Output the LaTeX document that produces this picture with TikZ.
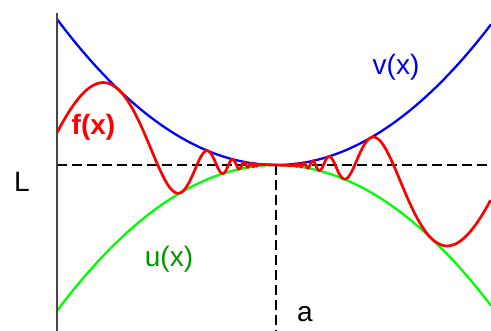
\documentclass[tikz,border=0pt]{standalone}
\usepackage{fontspec}
\setmainfont{Liberation Sans}
\definecolor{vblue}{RGB}{0,0,255}
\definecolor{ugreen}{RGB}{0,255,0}
\definecolor{utext}{RGB}{0,150,0}
\definecolor{vtext}{RGB}{0,0,230}
\definecolor{fred}{RGB}{255,0,0}
\definecolor{axisgray}{RGB}{70,70,70}
\begin{document}
\begin{tikzpicture}[x=1pt,y=-1pt,
  envline/.style={line width=2.3pt},
  fline/.style={line width=2.7pt, fred, line join=round},
  dashline/.style={dash pattern=on 10pt off 5pt, line width=1.7pt, black},
  axisline/.style={line width=2.4pt, axisgray},
  lab/.style={font=\fontsize{28}{32}\selectfont, inner sep=0pt}]
\useasboundingbox (0,0) rectangle (491,331);
\coordinate (atop) at (57,13);
\coordinate (abot) at (57,331);
\coordinate (Lleft) at (57,165);
\coordinate (Lright) at (491,165);
\coordinate (aL) at (276,165);
\coordinate (abottom) at (276,331);
\draw[dashline] (Lleft) -- (Lright);
\draw[dashline] (aL) -- (abottom);
\draw[envline, vblue] plot[domain=57:491, samples=150, smooth] (\x, {165-(0.05514*(\x-276))^2});
\draw[envline, ugreen] plot[domain=57:491, samples=150, smooth] (\x, {165+(0.05514*(\x-276))^2});
\draw[fline] plot[domain=3.4247:41.7, samples=900] ({276-750/\x}, {165+1710/(\x*\x)*sin((\x-0.06) r)})
  -- plot[domain=41.7:3.488, samples=900] ({276+750/\x}, {165-1710/(\x*\x)*sin((\x-0.1) r)});
\draw[axisline] (atop) -- (abot);
\node[lab] (Llab) at (22,182) {L};
\node[lab] (alab) at (305,314) {a};
\node[lab, text=vtext] (vlab) at (396,67) {v(x)};
\node[lab, text=utext] (ulab) at (169,259) {u(x)};
\node[lab, text=fred, font=\fontsize{28}{32}\selectfont\bfseries] (flab) at (93.5,127.5) {f(x)};
\end{tikzpicture}
\end{document}
